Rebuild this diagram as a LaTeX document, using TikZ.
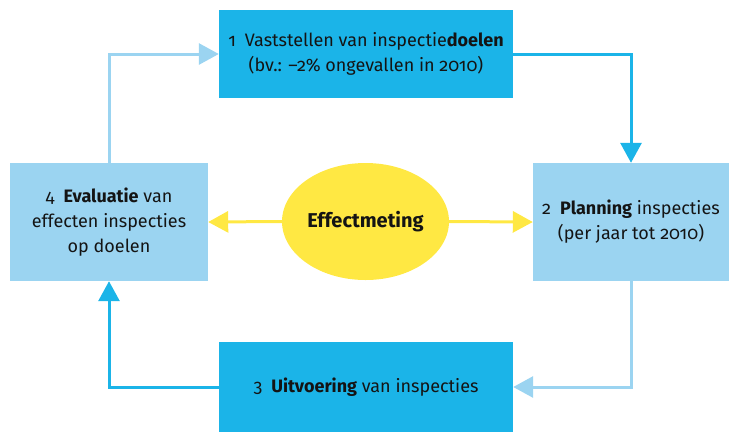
\documentclass[tikz,border=0pt]{standalone}
\usepackage{fontspec}
\setmainfont{Fira Sans}[Numbers=OldStyle]
\usetikzlibrary{arrows.meta,shapes.geometric}
\definecolor{blue1}{RGB}{27,180,232}
\definecolor{blue2}{RGB}{155,212,241}
\definecolor{yellow1}{RGB}{255,232,67}
\definecolor{text1}{RGB}{20,20,20}

\begin{document}
\begin{tikzpicture}[x=1bp,y=-1bp,>={Triangle[length=20bp,width=21bp]},
    box/.style={rectangle,inner sep=0pt,align=center,text=text1,
      font=\fontsize{18bp}{25bp}\selectfont},
    link/.style={line width=3bp,->}]
    \useasboundingbox (0,0) rectangle (729,432);

    \node[box,fill=blue1,minimum width=294bp,minimum height=88bp] (doel) at (366,54)
      {1\enskip Vaststellen van inspectie\textbf{doelen}\\(bv.: –2\% ongevallen in 2010)};
    \node[box,fill=blue2,minimum width=196bp,minimum height=118bp] (plan) at (631,222)
      {2\enskip\textbf{Planning} inspecties\\(per jaar tot 2010)};
    \node[box,fill=blue1,minimum width=294bp,minimum height=90bp] (uitv) at (366,387)
      {3\enskip\textbf{Uitvoering} van inspecties};
    \node[box,fill=blue2,minimum width=198bp,minimum height=118bp] (eval) at (109,222)
      {4\enskip\textbf{Evaluatie} van\\effecten inspecties\\op doelen};
    \node[box,ellipse,fill=yellow1,minimum width=167bp,minimum height=117bp,
      font=\fontsize{20bp}{25bp}\selectfont] (meet) at (365.5,221.5)
      {\textbf{Effectmeting}};

    \draw[link,blue2] (eval.north) |- (doel.west);
    \draw[link,blue1] (doel.east) -| (plan.north);
    \draw[link,blue2] (plan.south) |- (uitv.east);
    \draw[link,blue1] (uitv.west) -| (eval.south);
    \draw[link,yellow1] (meet.west) -- (eval.east);
    \draw[link,yellow1] (meet.east) -- (plan.west);

  \end{tikzpicture}
\end{document}
